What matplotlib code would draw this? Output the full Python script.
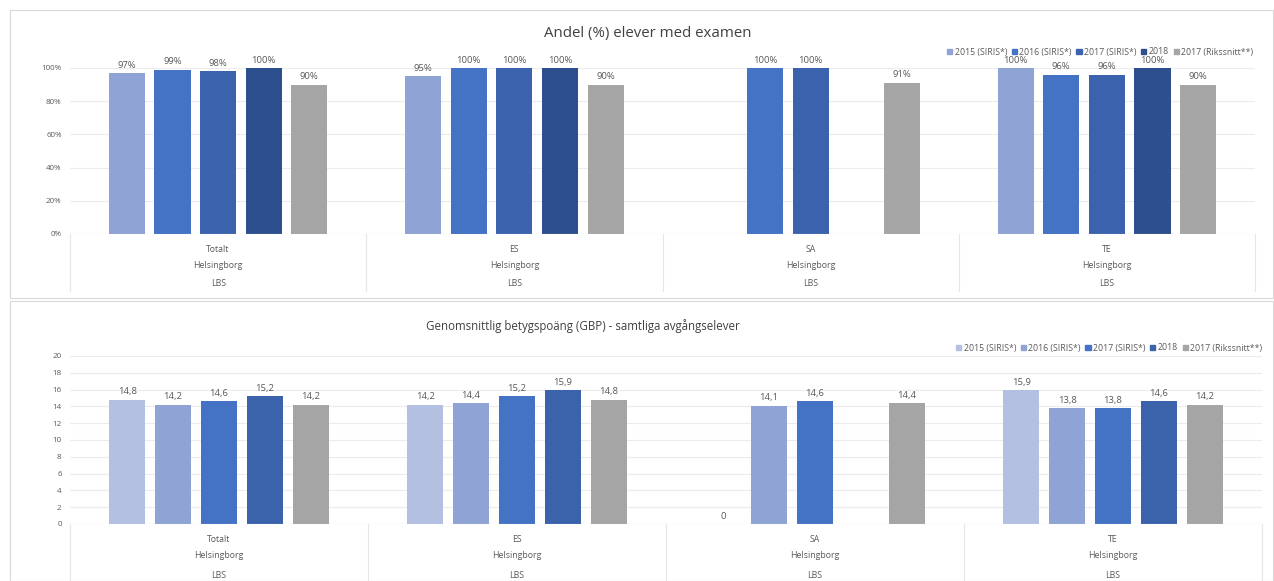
import numpy as np
import matplotlib
matplotlib.use('Agg')
import matplotlib.pyplot as plt
from matplotlib.patches import Rectangle, Patch
from matplotlib.transforms import blended_transform_factory

plt.rcParams['font.family'] = ['Open Sans', 'DejaVu Sans']

# data
categories = ['Totalt', 'ES', 'SA', 'TE']
level2 = 'Helsingborg'
level3 = 'LBS'
series_names = ['2015 (SIRIS*)', '2016 (SIRIS*)', '2017 (SIRIS*)', '2018', '2017 (Rikssnitt**)']

# Andel (%) elever med examen
exam_2015 = [97, 95, np.nan, 100]
exam_2016 = [99, 100, 100, 96]
exam_2017 = [98, 100, 100, 96]
exam_2018 = [100, 100, np.nan, 100]
exam_riks = [90, 90, 91, 90]

# Genomsnittlig betygspoäng
gbp_2015 = [14.8, 14.2, 0, 15.9]
gbp_2016 = [14.2, 14.4, 14.1, 13.8]
gbp_2017 = [14.6, 15.2, 14.6, 13.8]
gbp_2018 = [15.2, 15.9, np.nan, 14.6]
gbp_riks = [14.2, 14.8, 14.4, 14.2]

top_colors = ['#8FA3D4', '#4472C4', '#3B63AD', '#2E4F8E', '#A5A5A5']
bot_colors = ['#B4C0E2', '#8FA3D4', '#4472C4', '#3A63AC', '#A5A5A5']

W, H = 1274, 581
fig = plt.figure(figsize=(W / 100, H / 100), dpi=100)
fig.patch.set_facecolor('white')

txt = '#595959'
grid_c = '#ECECEC'


def px_axes(x0, y_top, x1, y_bot):
    return fig.add_axes([x0 / W, (H - y_bot) / H, (x1 - x0) / W, (y_bot - y_top) / H])


def draw_panel(ax, series, colors, fmt, ymax, ystep, label_offs, ytickfmt):
    n = len(categories)
    x = np.arange(n)
    spacing = 0.154
    width = 0.122
    for i, vals in enumerate(series):
        vals = np.array(vals, dtype=float)
        pos = x + (i - 2) * spacing
        mask = ~np.isnan(vals)
        ax.bar(pos[mask], vals[mask], width=width, color=colors[i], zorder=3)
        for p, v in zip(pos[mask], vals[mask]):
            ax.annotate(fmt(v), (p, v), xytext=(0, 2.5), textcoords='offset points',
                        ha='center', va='bottom', fontsize=6.8, color=txt,
                        annotation_clip=False)
    ax.set_xlim(-0.5, n - 0.5)
    ax.set_ylim(0, ymax)
    ticks = np.arange(0, ymax + ystep / 2, ystep)
    ax.set_yticks(ticks)
    ax.set_yticklabels([ytickfmt(t) for t in ticks])
    ax.tick_params(axis='y', length=0, labelsize=5.8, labelcolor=txt, pad=6)
    ax.set_xticks([])
    ax.grid(axis='y', color=grid_c, linewidth=0.8, zorder=0)
    for s in ax.spines.values():
        s.set_visible(False)
    ax.axhline(0, color='#D9D9D9', linewidth=0.8, zorder=4)
    # multi-level category axis
    tr = blended_transform_factory(ax.transData, ax.transAxes)
    ax_h = ax.get_position().height * H
    for b in np.arange(-0.5, n, 1.0):
        ax.plot([b, b], [0, -(label_offs[-1] + 8) / ax_h], transform=tr,
                color='#E6E6E6', linewidth=0.8, clip_on=False)
    for j, c in enumerate(categories):
        for off, lab in zip(label_offs, [c, level2, level3]):
            ax.text(j, -off / ax_h, lab, transform=tr, ha='center', va='center',
                    fontsize=6.3, color=txt)


# panel frames
fig.patches.append(Rectangle((10 / W, (H - 298) / H), (W - 11) / W, 288 / H,
                             transform=fig.transFigure, fill=False,
                             edgecolor='#D9D9D9', linewidth=0.8))
fig.patches.append(Rectangle((10 / W, 0), (W - 11) / W, (H - 301) / H,
                             transform=fig.transFigure, fill=False,
                             edgecolor='#D9D9D9', linewidth=0.8))

# top chart
ax1 = px_axes(70, 68, 1255, 234)
draw_panel(ax1, [exam_2015, exam_2016, exam_2017, exam_2018, exam_riks], top_colors,
           lambda v: '%d%%' % round(v), 100, 20, [15, 32, 49],
           lambda t: '%d%%' % t)
fig.text(648 / W, (H - 34) / H, 'Andel (%) elever med examen', ha='center', va='center',
         fontsize=10.8, color='#404040')
h1 = [Patch(color=c) for c in top_colors]
fig.legend(h1, series_names, loc='center right', bbox_to_anchor=(1257 / W, (H - 52) / H),
           ncol=5, frameon=False, fontsize=6.3, handlelength=0.6, handleheight=0.6,
           handletextpad=0.3, columnspacing=0.5, labelcolor=txt, borderaxespad=0)

# bottom chart
ax2 = px_axes(70, 356, 1262, 524)
draw_panel(ax2, [gbp_2015, gbp_2016, gbp_2017, gbp_2018, gbp_riks], bot_colors,
           lambda v: ('%.1f' % v).replace('.', ',') if v != 0 else '0', 20, 2,
           [16, 32, 51], lambda t: '%d' % t)
fig.text(583 / W, (H - 326) / H, 'Genomsnittlig betygspoäng (GBP) - samtliga avgångselever',
         ha='center', va='center', fontsize=8.3, color='#404040')
h2 = [Patch(color=c) for c in bot_colors]
fig.legend(h2, series_names, loc='center right', bbox_to_anchor=(1266 / W, (H - 348) / H),
           ncol=5, frameon=False, fontsize=6.3, handlelength=0.6, handleheight=0.6,
           handletextpad=0.3, columnspacing=0.5, labelcolor=txt, borderaxespad=0)

fig.savefig('out.png', dpi=100)
